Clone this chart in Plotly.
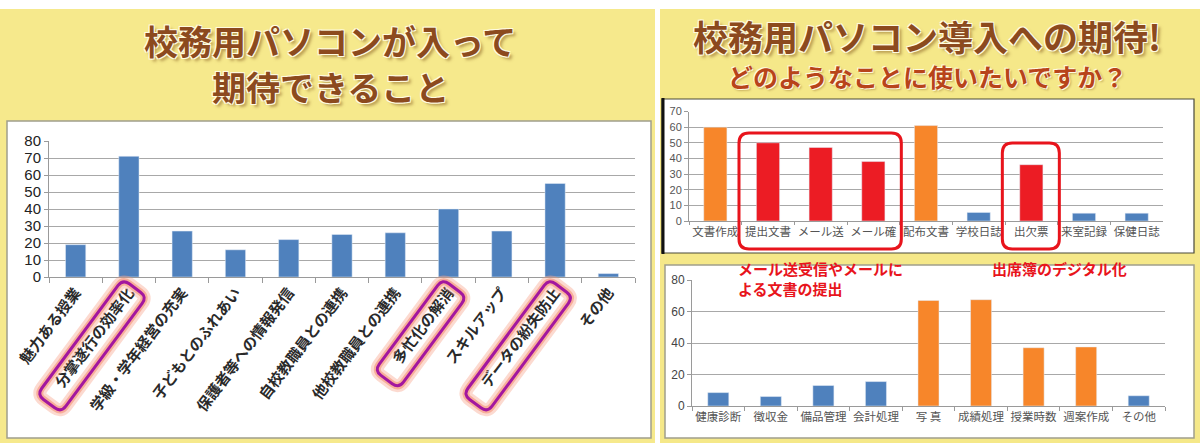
import math
import plotly.graph_objects as go

W, H = 1200, 443

# ---------------- data ----------------
left_cats = ["魅力ある授業", "分掌遂行の効率化", "学級・学年経営の充実", "子どもとのふれあい",
             "保護者等への情報発信", "自校教職員との連携", "他校教職員との連携", "多忙化の解消",
             "スキルアップ", "データの紛失防止", "その他"]
left_vals = [19, 71, 27, 16, 22, 25, 26, 40, 27, 55, 2]
left_highlight = ["分掌遂行の効率化", "多忙化の解消", "データの紛失防止"]
left_yticks = [0, 10, 20, 30, 40, 50, 60, 70, 80]

top_cats = ["文書作成", "提出文書", "メール送", "メール確", "配布文書", "学校日誌", "出欠票", "来室記録", "保健日誌"]
top_vals = [60, 50, 47, 38, 61, 5.5, 36, 5, 5]
top_groups = ["orange", "red", "red", "red", "orange", "blue", "red", "blue", "blue"]
top_yticks = [0, 10, 20, 30, 40, 50, 60, 70]
top_boxes = [["提出文書", "メール送", "メール確"], ["出欠票"]]

bot_cats = ["健康診断", "徴収金", "備品管理", "会計処理", "写 真", "成績処理", "授業時数", "週案作成", "その他"]
bot_vals = [8.5, 6, 13, 15.5, 67, 67.5, 37, 37.5, 6.5]
bot_groups = ["blue", "blue", "blue", "blue", "orange", "orange", "orange", "orange", "blue"]
bot_yticks = [0, 20, 40, 60, 80]

title_left = ["校務用パソコンが入って", "期待できること"]
title_right = "校務用パソコン導入への期待!"
subtitle_right = "どのようなことに使いたいですか？"
note_mail = "メール送受信やメールに<br>よる文書の提出"
note_attend = "出席簿のデジタル化"

# ---------------- styles ----------------
COLORS = {"blue": "#4f81bd", "orange": "#f7862a", "red": "#ec1c24"}
JP = "Noto Sans CJK JP"
NUM = "Liberation Sans Narrow, Liberation Sans, Arial"

# plot areas in pixels: (x0, x1, ytop, ybottom)
LA = (49, 635, 141, 277)
TA = (689, 1163, 111.5, 221)
BA = (692, 1165, 280, 406)


def px(x):
    return x / W


def py(y):
    return 1 - y / H


def dom(area):
    x0, x1, yt, yb = area
    return [px(x0), px(x1)], [py(yb), py(yt)]


def cat_x(area, n, i):
    x0, x1, _, _ = area
    return x0 + (x1 - x0) * (i + 0.5) / n


def pt(p):
    return f"{px(p[0]):.5f},{py(p[1]):.5f}"


def rounded_poly(pts, r):
    def toward(a, b, d):
        dx, dy = b[0] - a[0], b[1] - a[1]
        L = math.hypot(dx, dy)
        return (a[0] + dx / L * d, a[1] + dy / L * d)
    n = len(pts)
    path = "M " + pt(toward(pts[0], pts[1], r)) + " "
    for i in range(n):
        a, b, c = pts[i], pts[(i + 1) % n], pts[(i + 2) % n]
        path += "L " + pt(toward(b, a, r)) + " Q " + pt(b) + " " + pt(toward(b, c, r)) + " "
    return path + "Z"


fig = go.Figure()

fig.add_trace(go.Bar(x=left_cats, y=left_vals, marker_color=COLORS["blue"], width=0.38,
                     xaxis="x", yaxis="y", showlegend=False))
fig.add_trace(go.Bar(x=top_cats, y=top_vals, marker_color=[COLORS[g] for g in top_groups], width=0.44,
                     xaxis="x2", yaxis="y2", showlegend=False))
fig.add_trace(go.Bar(x=bot_cats, y=bot_vals, marker_color=[COLORS[g] for g in bot_groups], width=0.4,
                     xaxis="x3", yaxis="y3", showlegend=False))

lx, ly = dom(LA)
tx, ty = dom(TA)
bx, by = dom(BA)

common_x = dict(type="category", showgrid=False, showline=True, linecolor="#9a9a9a", linewidth=1,
                ticks="outside", tickson="boundaries", ticklen=5, tickcolor="#9a9a9a", fixedrange=True,
                automargin=False)
common_y = dict(showgrid=True, gridcolor="#a8a8a8", gridwidth=1, showline=True, linecolor="#9a9a9a",
                ticks="outside", ticklen=4, tickcolor="#9a9a9a", zeroline=False, fixedrange=True,
                automargin=False)

fig.update_layout(
    width=W, height=H, margin=dict(l=0, r=0, t=0, b=0, pad=0, autoexpand=False),
    paper_bgcolor="#ffffff", plot_bgcolor="rgba(0,0,0,0)",
    bargap=0.6,
    xaxis=dict(common_x, domain=lx, anchor="y", tickangle=-53,
               tickfont=dict(family=JP, size=15, color="#2a2a2a", weight="bold")),
    yaxis=dict(common_y, domain=ly, anchor="x", range=[0, 80], tickvals=left_yticks,
               tickfont=dict(family=NUM, size=15, color="#222222")),
    xaxis2=dict(common_x, domain=tx, anchor="y2", tickangle=0, ticklen=3,
                tickfont=dict(family=JP, size=11.5, color="#555555")),
    yaxis2=dict(common_y, domain=ty, anchor="x2", range=[0, 70], tickvals=top_yticks,
                tickfont=dict(family=NUM, size=11, color="#555555")),
    xaxis3=dict(common_x, domain=bx, anchor="y3", tickangle=0, ticklen=4,
                tickfont=dict(family=JP, size=11.5, color="#555555")),
    yaxis3=dict(common_y, domain=by, anchor="x3", range=[0, 80], tickvals=bot_yticks,
                tickfont=dict(family=NUM, size=12, color="#444444")),
)

shapes = []
shapes.append(dict(type="rect", xref="paper", yref="paper", x0=px(0), x1=px(655), y0=py(443), y1=py(9),
                   fillcolor="#f6e98c", line=dict(width=0), layer="below"))
shapes.append(dict(type="rect", xref="paper", yref="paper", x0=px(660), x1=px(1200), y0=py(443), y1=py(9),
                   fillcolor="#f5e889", line=dict(width=0), layer="below"))
shapes.append(dict(type="rect", xref="paper", yref="paper", x0=px(7), x1=px(651), y0=py(438), y1=py(121),
                   fillcolor="#ffffff", line=dict(color="#a09e8c", width=1.5), layer="below"))
shapes.append(dict(type="rect", xref="paper", yref="paper", x0=px(662), x1=px(1194), y0=py(253), y1=py(99),
                   fillcolor="#ffffff", line=dict(color="#4a4a3a", width=1.2), layer="below"))
shapes.append(dict(type="line", xref="paper", yref="paper", x0=px(663), x1=px(663), y0=py(254), y1=py(98),
                   line=dict(color="#111111", width=3), layer="below"))
shapes.append(dict(type="rect", xref="paper", yref="paper", x0=px(665), x1=px(1194), y0=py(438), y1=py(265),
                   fillcolor="#ffffff", line=dict(color="#a09e8c", width=1.5), layer="below"))

ang = math.radians(53.4)
u = (-math.cos(ang), math.sin(ang))
nrm = (math.sin(ang), math.cos(ang))
for lab in left_highlight:
    i = left_cats.index(lab)
    xc = cat_x(LA, len(left_cats), i)
    p0 = (xc + 6, 288)
    L = 15 * len(lab) + 24
    w2 = 15
    pts = [
        (p0[0] - nrm[0] * w2, p0[1] - nrm[1] * w2),
        (p0[0] + nrm[0] * w2, p0[1] + nrm[1] * w2),
        (p0[0] + nrm[0] * w2 + u[0] * L, p0[1] + nrm[1] * w2 + u[1] * L),
        (p0[0] - nrm[0] * w2 + u[0] * L, p0[1] - nrm[1] * w2 + u[1] * L),
    ]
    path = rounded_poly(pts, 8)
    shapes.append(dict(type="path", xref="paper", yref="paper", path=path,
                       line=dict(color="rgba(246,150,120,0.35)", width=13), layer="above"))
    shapes.append(dict(type="path", xref="paper", yref="paper", path=path,
                       line=dict(color="rgba(244,140,110,0.55)", width=7), layer="above"))
    shapes.append(dict(type="path", xref="paper", yref="paper", path=path,
                       line=dict(color="#a3179f", width=3), layer="above"))

ncat = len(top_cats)
for grp in top_boxes:
    i0 = top_cats.index(grp[0])
    i1 = top_cats.index(grp[-1])
    xa = cat_x(TA, ncat, i0) - 29
    xb = cat_x(TA, ncat, i1) + 28
    yt = 133 if len(grp) > 1 else 143
    pts = [(xa, yt), (xb, yt), (xb, 249), (xa, 249)]
    shapes.append(dict(type="path", xref="paper", yref="paper", path=rounded_poly(pts, 10),
                       line=dict(color="#e8141c", width=3), layer="above"))

fig.update_layout(shapes=shapes)

title_shadow = ("-1px -1px 0 #fffbe0, 1px -1px 0 #fffbe0, -1px 1px 0 #fffbe0, 1px 1px 0 #fffbe0, "
                "3px 3px 3px rgba(140,100,40,0.55)")


def add_text(text, x, y, size, color, xanchor="center", yanchor="middle", shadow=None, weight="bold"):
    f = dict(family=JP, size=size, color=color, weight=weight)
    if shadow:
        f["shadow"] = shadow
    return dict(text=text, x=px(x), y=py(y), xref="paper", yref="paper", showarrow=False,
                xanchor=xanchor, yanchor=yanchor, align="left", font=f)


ann = [
    add_text(title_left[0], 330, 41, 34, "#8c4a1e", shadow=title_shadow),
    add_text(title_left[1], 330, 87, 34, "#8c4a1e", shadow=title_shadow),
    add_text(title_right, 927, 35, 35, "#8c4a1e", shadow=title_shadow),
    add_text(subtitle_right, 927, 76, 25, "#b8441a",
             shadow="1px 1px 0 #fffbe0, -1px -1px 0 #fffbe0, 2px 2px 2px rgba(140,100,40,0.4)"),
    add_text(note_mail, 736, 256, 15, "#e8141c", xanchor="left", yanchor="top"),
    add_text(note_attend, 990, 256, 15, "#e8141c", xanchor="left", yanchor="top"),
]
fig.update_layout(annotations=ann)

fig.write_html("out.html")
